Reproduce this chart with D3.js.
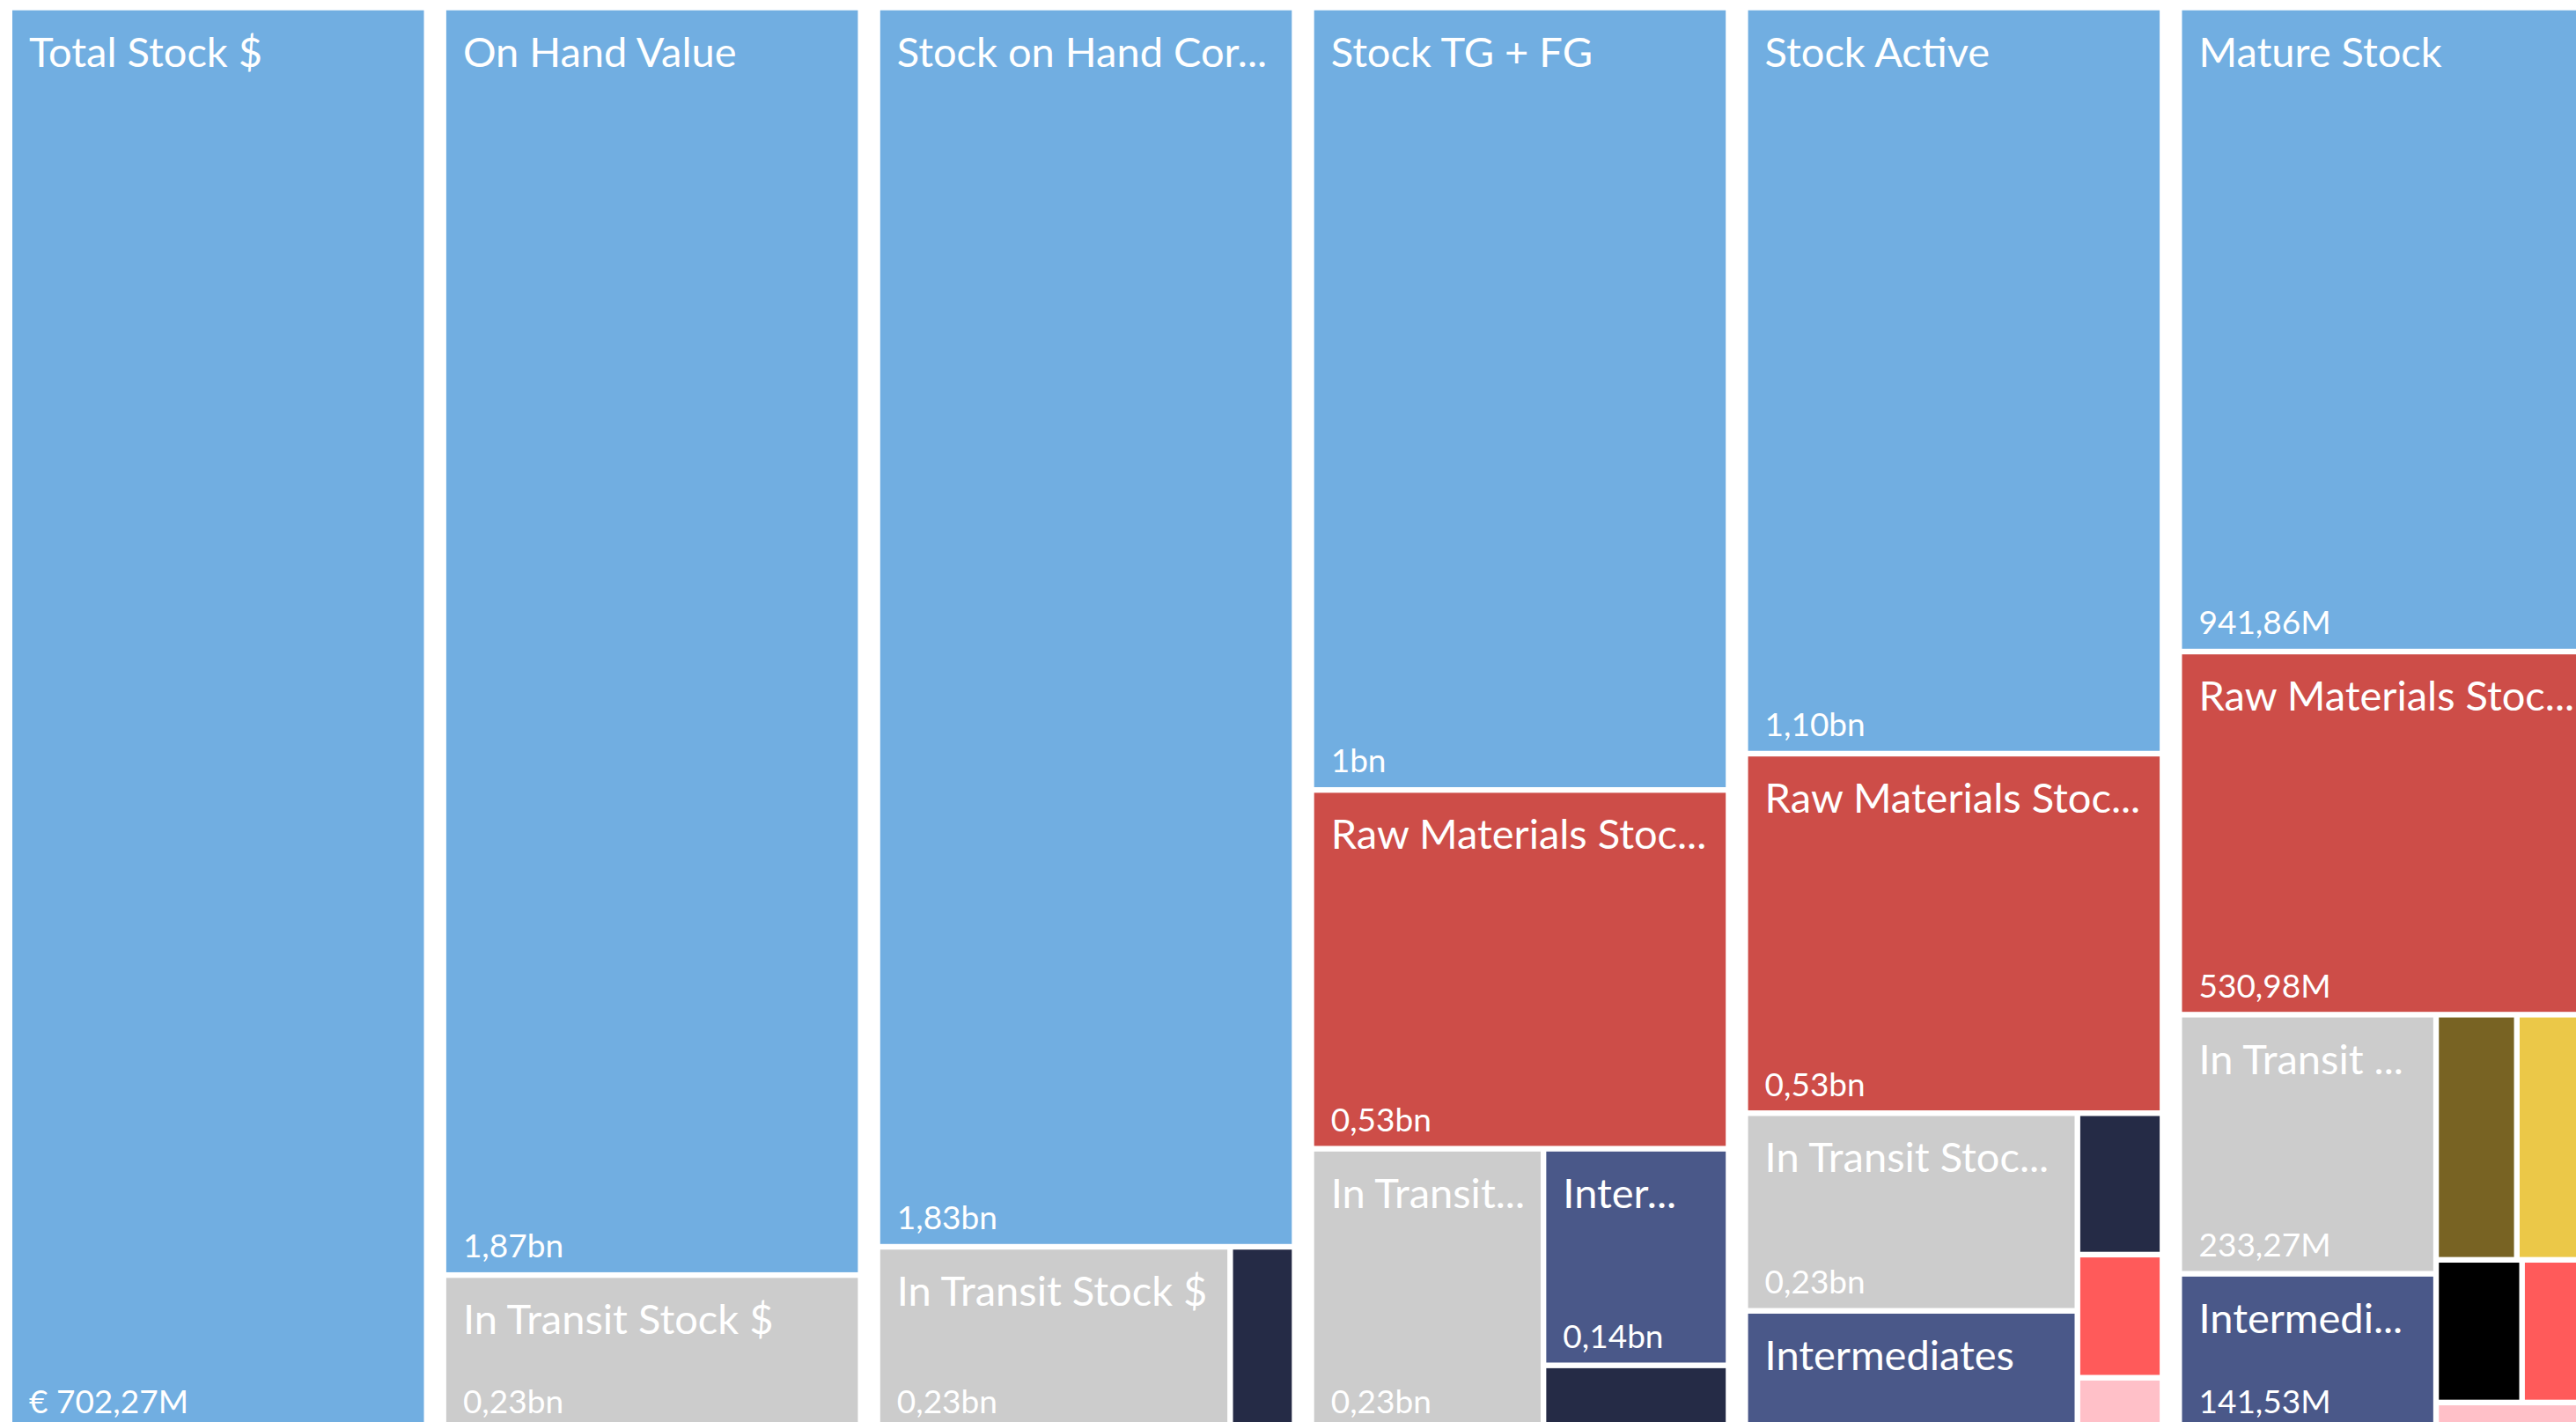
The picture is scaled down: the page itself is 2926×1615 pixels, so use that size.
<!DOCTYPE html>
<html>
<head>
<meta charset="utf-8">
<script src="https://cdn.jsdelivr.net/npm/d3@7"></script>
<style>
  html, body { margin: 0; padding: 0; background: #fff; overflow: hidden; }
  svg { display: block; }
  text { font-family: Lato, "Open Sans", sans-serif; fill: #fff; }
</style>
</head>
<body>
<svg id="chart"></svg>
<script>
// tiles of each column: [label shown, value in €M, value label shown, kind]
var totalStock = [
  ["Total Stock $", 702.27, "€ 702,27M", "main"]
];
var onHand = [
  ["On Hand Value", 1870, "1,87bn", "main"],
  ["In Transit Stock $", 230, "0,23bn", "transit"]
];
var stockOnHandCor = [
  ["Stock on Hand Cor...", 1830, "1,83bn", "main"],
  ["In Transit Stock $", 230, "0,23bn", "transit"],
  ["", 42, "", "other1"]
];
var stockTgFg = [
  ["Stock TG + FG", 1156, "1bn", "main"],
  ["Raw Materials Stoc...", 530, "0,53bn", "raw"],
  ["In Transit...", 232, "0,23bn", "transit"],
  ["Inter...", 142, "0,14bn", "inter"],
  ["", 43, "", "other1"]
];
var stockActive = [
  ["Stock Active", 1100, "1,10bn", "main"],
  ["Raw Materials Stoc...", 530, "0,53bn", "raw"],
  ["In Transit Stoc...", 232, "0,23bn", "transit"],
  ["Intermediates", 141, "", "inter"],
  ["", 42.5, "", "other1"],
  ["", 37, "", "other2"],
  ["", 16, "", "other3"]
];
var matureStock = [
  ["Mature Stock", 941.86, "941,86M", "main"],
  ["Raw Materials Stoc...", 530.98, "530,98M", "raw"],
  ["In Transit ...", 233.27, "233,27M", "transit"],
  ["Intermedi...", 141.53, "141,53M", "inter"],
  ["", 69.4, "", "other4"],
  ["", 68.4, "", "other5"],
  ["", 43, "", "other6"],
  ["", 37.2, "", "other2"],
  ["", 16, "", "other3"]
];

// how the tiles are grouped: nesting levels alternate stacked / side by side
var columns = [
  { tiles: totalStock,     nest: [0] },
  { tiles: onHand,         nest: [0, 1] },
  { tiles: stockOnHandCor, nest: [0, [1, 2]] },
  { tiles: stockTgFg,      nest: [0, 1, [2, [3, 4]]] },
  { tiles: stockActive,    nest: [0, 1, [[2, 3], [4, 5, 6]]] },
  { tiles: matureStock,    nest: [0, 1, [[2, 3], [[4, 5], [6, 7], 8]]] }
];

var kinds  = ["main", "raw", "transit", "inter", "other1", "other2", "other3", "other4", "other5", "other6"];
var colors = ["#71AEE1", "#CD4D48", "#CCCCCC", "#4A5889", "#252B46", "#FF5A5A", "#FFC0C8", "#786323", "#EBC848", "#000000"];

var width = 2926, height = 1615;
var plotTop = 11.7, plotBottom = 1622;

var svg = d3.select("#chart").attr("width", width).attr("height", height);
var defs = svg.append("defs");

var color = d3.scaleOrdinal().domain(kinds).range(colors);

var x = d3.scaleBand()
  .domain(d3.range(columns.length))
  .range([14, 2946])
  .paddingInner(0.0515);

// even depth: stack vertically, odd depth: place side by side
var tile = function(node, x0, y0, x1, y1) {
  (node.depth % 2 ? d3.treemapDice : d3.treemapSlice)(node, x0, y0, x1, y1);
};

function build(spec, tiles) {
  if (Array.isArray(spec)) return { children: spec.map(function(s) { return build(s, tiles); }) };
  var t = tiles[spec];
  return { name: t[0], value: t[1], label: t[2], kind: t[3] };
}

var clipId = 0;

columns.forEach(function(col, i) {
  var root = d3.hierarchy(build(col.nest, col.tiles))
    .sum(function(d) { return d.children ? 0 : d.value; });

  d3.treemap()
    .tile(tile)
    .size([x.bandwidth(), plotBottom - plotTop])
    .paddingInner(6.4)
    .round(false)(root);

  var g = svg.append("g")
    .attr("transform", "translate(" + x(i) + "," + plotTop + ")");

  var cells = g.selectAll("g")
    .data(root.leaves())
    .enter()
    .append("g");

  cells.append("rect")
    .attr("x", function(d) { return d.x0; })
    .attr("y", function(d) { return d.y0; })
    .attr("width", function(d) { return d.x1 - d.x0; })
    .attr("height", function(d) { return d.y1 - d.y0; })
    .attr("fill", function(d) { return color(d.data.kind); });

  cells.each(function(d) {
    var id = "clip" + (clipId++);
    defs.append("clipPath").attr("id", id)
      .append("rect")
      .attr("x", d.x0).attr("y", d.y0)
      .attr("width", d.x1 - d.x0).attr("height", d.y1 - d.y0);
    d.clip = id;
  });

  cells.filter(function(d) { return d.data.name; })
    .append("text")
    .attr("clip-path", function(d) { return "url(#" + d.clip + ")"; })
    .attr("x", function(d) { return d.x0 + 19; })
    .attr("y", function(d) { return d.y0 + 64; })
    .attr("font-size", 47)
    .text(function(d) { return d.data.name; });

  cells.filter(function(d) { return d.data.label; })
    .append("text")
    .attr("clip-path", function(d) { return "url(#" + d.clip + ")"; })
    .attr("x", function(d) { return d.x0 + 19; })
    .attr("y", function(d) { return d.y1 - 16.5; })
    .attr("font-size", 37)
    .text(function(d) { return d.data.label; });
});
</script>
</body>
</html>
